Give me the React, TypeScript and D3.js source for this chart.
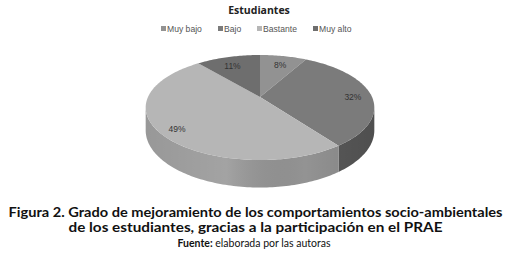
import React from "react";
import * as d3 from "d3";

const width = 511;
const height = 260;

// chart values
const categories = ["Muy bajo", "Bajo", "Bastante", "Muy alto"];
const values = [8, 32, 49, 11];
const topColors = ["#929292", "#7b7b7b", "#b6b6b6", "#6e6e6e"];
const sideColors = ["#6a6a6a", "#5a5a5a", "#939393", "#555555"];

const title = "Estudiantes";
const captionLines = [
  "Figura 2. Grado de mejoramiento de los comportamientos socio-ambientales",
  "de los estudiantes, gracias a la participación en el PRAE",
];
const captionWidths = [494, 374];

// projection of the tilted disc
const cx = 260;
const cy = 97;
const rx = 112;
const ry = 50.4;
const persp = 0.2;
const depth = 22;

function project(theta: number, r: number, h: number): [number, number] {
  const u = r * Math.sin(theta);
  const v = -r * Math.cos(theta);
  const s = 1 / (1 - persp * v);
  return [cx + rx * u * s, cy + (ry * v + h) * s];
}

function arcPoints(a0: number, a1: number, h: number) {
  const n = Math.max(2, Math.ceil(Math.abs(a1 - a0) / 0.02));
  return d3.range(n + 1).map((i) => project(a0 + ((a1 - a0) * i) / n, 1, h));
}

const line = d3.line();

export default function App() {
  const pie = d3
    .pie<number>()
    .sort(null)
    .value((d) => d);
  const arcs = pie(values);

  const visMin = Math.acos(-persp);
  const visMax = 2 * Math.PI - visMin;

  const legendX = [161, 218, 257, 313];

  return (
    <svg
      width={width}
      height={height}
      style={{ position: "absolute", left: 0, top: 0, background: "#fff" }}
    >
      <defs>
        <linearGradient id="sideGrad" gradientUnits="userSpaceOnUse" x1={cx - rx} x2={cx + rx} y1={0} y2={0}>
          <stop offset="0" stopColor="#ffffff" stopOpacity={0.05} />
          <stop offset="0.35" stopColor="#ffffff" stopOpacity={0.15} />
          <stop offset="0.7" stopColor="#000000" stopOpacity={0.0} />
          <stop offset="1" stopColor="#000000" stopOpacity={0.12} />
        </linearGradient>
      </defs>

      <text
        x={259}
        y={14}
        textAnchor="middle"
        fontFamily="Open Sans, sans-serif"
        fontWeight="bold"
        fontSize={10.5}
        fill="#222"
      >
        {title}
      </text>

      {categories.map((c, i) => (
        <g key={c} transform={`translate(${legendX[i]},26)`}>
          <rect x={0} y={0} width={5} height={5} fill={topColors[i]} />
          <text x={6} y={5.8} fontFamily="Liberation Sans, Arial, sans-serif" fontSize={8.6} fill="#555">
            {c}
          </text>
        </g>
      ))}

      {/* side faces */}
      {arcs.map((a, i) => {
        const a0 = Math.max(a.startAngle, visMin);
        const a1 = Math.min(a.endAngle, visMax);
        if (a1 <= a0) return null;
        const pts = [...arcPoints(a0, a1, 0), ...arcPoints(a1, a0, depth)];
        const d = line(pts) + "Z";
        return (
          <g key={"s" + i}>
            <path d={d} fill={sideColors[i]} />
            <path d={d} fill="url(#sideGrad)" />
          </g>
        );
      })}

      {/* top faces */}
      {arcs.map((a, i) => {
        const pts = [project(0, 0, 0), ...arcPoints(a.startAngle, a.endAngle, 0)];
        return <path key={"t" + i} d={line(pts) + "Z"} fill={topColors[i]} />;
      })}

      {arcs.map((a, i) => {
        const mid = (a.startAngle + a.endAngle) / 2;
        const [x, y] = project(mid, 0.84, 0);
        return (
          <text
            key={"l" + i}
            x={x}
            y={y + 3}
            dy="0.35em"
            textAnchor="middle"
            fontFamily="Liberation Sans, Arial, sans-serif"
            fontSize={8.5}
            fill="#333"
          >
            {values[i]}%
          </text>
        );
      })}

      {captionLines.map((t, i) => (
        <text
          key={t}
          x={255.5}
          y={217 + i * 15}
          textAnchor="middle"
          fontFamily="Lato, sans-serif"
          fontWeight="bold"
          fontSize={13.5}
          textLength={captionWidths[i]}
          lengthAdjust="spacingAndGlyphs"
          fill="#111"
        >
          {t}
        </text>
      ))}
      <text x={254} y={247} textAnchor="middle" fontFamily="Lato, sans-serif" fontSize={10.5} fill="#111">
        <tspan fontWeight="bold">Fuente:</tspan> elaborada por las autoras
      </text>
    </svg>
  );
}
